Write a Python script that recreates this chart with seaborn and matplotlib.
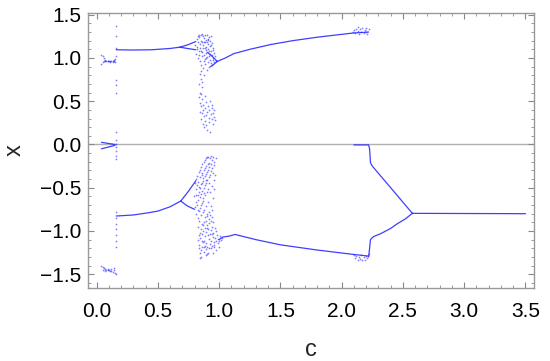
import matplotlib
matplotlib.use("Agg")
import matplotlib.pyplot as plt
import seaborn as sns
import pandas as pd
from matplotlib.ticker import MultipleLocator

# --- branches (dense parts of the diagram), knots ---
upper_main_c = [0.16, 0.30, 0.45, 0.60, 0.68]
upper_main_x = [1.095, 1.092, 1.095, 1.11, 1.125]
upper_fork_hi_c = [0.68, 0.74, 0.81]
upper_fork_hi_x = [1.125, 1.15, 1.19]
upper_fork_lo_c = [0.68, 0.74, 0.81]
upper_fork_lo_x = [1.125, 1.11, 1.095]
upper_v1_c = [0.91, 0.95, 0.985]
upper_v1_x = [1.06, 1.01, 0.96]
upper_v2_c = [0.93, 0.96, 0.985]
upper_v2_x = [0.90, 0.93, 0.96]
upper_late_c = [0.985, 1.05, 1.12, 1.25, 1.42, 1.60, 1.80, 2.09, 2.22]
upper_late_x = [0.96, 1.00, 1.05, 1.10, 1.155, 1.20, 1.24, 1.288, 1.30]

lower_main_c = [0.16, 0.30, 0.42, 0.50, 0.60, 0.687]
lower_main_x = [-0.827, -0.815, -0.79, -0.77, -0.72, -0.654]
lower_fork_hi_c = [0.687, 0.75, 0.81]
lower_fork_hi_x = [-0.654, -0.54, -0.42]
lower_fork_lo_c = [0.687, 0.74, 0.80]
lower_fork_lo_x = [-0.654, -0.71, -0.75]
lower_late_c = [1.00, 1.03, 1.08, 1.13, 1.30, 1.50, 1.80, 2.09, 2.22]
lower_late_x = [-1.10, -1.07, -1.06, -1.04, -1.10, -1.16, -1.22, -1.27, -1.29]

zero_c = [2.10, 2.22, 2.228, 2.235, 2.25, 2.40, 2.577]
zero_x = [-0.005, -0.005, -0.05, -0.21, -0.25, -0.50, -0.796]
rise_c = [2.22, 2.228, 2.235, 2.26, 2.32, 2.40, 2.45, 2.52, 2.577]
rise_x = [-1.30, -1.20, -1.10, -1.065, -1.03, -0.97, -0.92, -0.86, -0.796]
flat_c = [2.577, 3.0, 3.5]
flat_x = [-0.796, -0.798, -0.80]

near0_hi_c = [0.04, 0.15]
near0_hi_x = [0.025, 0.0]
near0_lo_c = [0.04, 0.15]
near0_lo_x = [-0.05, -0.01]

# --- scattered points ---
early_hi = [(0.04, 1.04), (0.05, 1.02), (0.06, 1.00), (0.07, 0.98), (0.08, 0.97), (0.09, 0.97),
            (0.10, 0.96), (0.11, 0.96), (0.12, 0.96), (0.13, 0.95), (0.14, 0.96), (0.04, 0.93),
            (0.05, 0.95), (0.06, 0.96), (0.07, 0.97), (0.09, 0.96), (0.11, 0.95), (0.13, 0.97),
            (0.14, 0.98), (0.15, 0.99), (0.15, 0.95)]
early_lo = [(0.04, -1.40), (0.05, -1.42), (0.06, -1.43), (0.07, -1.44), (0.08, -1.45), (0.09, -1.45),
            (0.10, -1.45), (0.11, -1.46), (0.12, -1.46), (0.13, -1.47), (0.14, -1.45), (0.15, -1.48),
            (0.05, -1.45), (0.07, -1.46), (0.09, -1.44), (0.12, -1.44), (0.14, -1.43)]
column_c = 0.155
column_x = [1.37, 1.25, 1.12, 1.02, 0.75, 0.69, 0.60, 0.14, 0.05, 0.01, -0.03, -0.08, -0.13, -0.17,
            -0.78, -0.85, -0.92, -0.98, -1.05, -1.12, -1.19, -1.50]

chaos_top = [(0.812, 1.05), (0.806, 1.15), (0.823, 1.22), (0.817, 1.10), (0.829, 1.00), (0.834, 1.27),
             (0.826, 1.18), (0.838, 1.04), (0.843, 1.12), (0.847, 0.96), (0.839, 1.24), (0.852, 1.20),
             (0.856, 1.08), (0.849, 0.92), (0.861, 1.28), (0.866, 1.15), (0.858, 1.02), (0.869, 0.88),
             (0.874, 1.23), (0.871, 1.11), (0.878, 0.97), (0.884, 1.26), (0.881, 1.18), (0.889, 1.06),
             (0.886, 0.93), (0.893, 1.21), (0.897, 1.13), (0.891, 1.00), (0.899, 0.86), (0.904, 1.27),
             (0.908, 1.16), (0.902, 1.07), (0.911, 0.95), (0.915, 1.24), (0.913, 1.10), (0.919, 1.02),
             (0.917, 0.90), (0.924, 1.20), (0.922, 1.14), (0.928, 0.98), (0.933, 1.25), (0.936, 1.08),
             (0.931, 0.94), (0.942, 1.17), (0.945, 1.04), (0.939, 0.92), (0.951, 1.12), (0.954, 1.00),
             (0.962, 1.06), (0.958, 0.95), (0.968, 1.02), (0.973, 0.97), (0.844, 1.16), (0.876, 1.19),
             (0.853, 1.26), (0.895, 1.09), (0.926, 1.05), (0.906, 1.22), (0.863, 1.07), (0.887, 1.12),
             (0.821, 1.13), (0.832, 1.08), (0.868, 1.25), (0.879, 1.03), (0.898, 1.18), (0.912, 1.21),
             (0.935, 1.15), (0.947, 1.09), (0.827, 1.25), (0.859, 1.19), (0.883, 0.99), (0.903, 1.01),
             (0.921, 1.08), (0.948, 0.98),
             (0.842, 0.82), (0.851, 0.76), (0.836, 0.70), (0.864, 0.66), (0.846, 0.60), (0.873, 0.80),
             (0.857, 0.72), (0.855, 0.85)]
chaos_mid = [(0.833, 0.55), (0.841, 0.48), (0.845, 0.38), (0.852, 0.58), (0.849, 0.44), (0.856, 0.30),
             (0.862, 0.52), (0.859, 0.36), (0.866, 0.24), (0.872, 0.46), (0.868, 0.40), (0.881, 0.56),
             (0.877, 0.33), (0.885, 0.27), (0.892, 0.49), (0.887, 0.42), (0.901, 0.37), (0.896, 0.22),
             (0.909, 0.45), (0.914, 0.31), (0.921, 0.40), (0.918, 0.26), (0.932, 0.35), (0.927, 0.50),
             (0.941, 0.29), (0.938, 0.42), (0.949, 0.36), (0.953, 0.24), (0.961, 0.32), (0.967, 0.28),
             (0.957, 0.40), (0.903, 0.17), (0.874, 0.20), (0.923, 0.15), (0.944, 0.46), (0.889, 0.34)]
chaos_band = [(0.802, -0.45), (0.798, -0.60), (0.805, -0.72), (0.812, -0.40), (0.808, -0.52), (0.815, -0.66),
              (0.811, -0.80), (0.823, -0.36), (0.819, -0.47), (0.826, -0.58), (0.821, -0.70), (0.828, -0.85),
              (0.834, -0.32), (0.831, -0.43), (0.837, -0.55), (0.829, -0.64), (0.836, -0.77), (0.843, -0.29),
              (0.847, -0.38), (0.841, -0.50), (0.848, -0.61), (0.844, -0.73), (0.839, -0.88), (0.853, -0.26),
              (0.857, -0.35), (0.851, -0.46), (0.855, -0.57), (0.859, -0.68), (0.852, -0.82), (0.864, -0.22),
              (0.861, -0.33), (0.867, -0.42), (0.863, -0.54), (0.869, -0.65), (0.862, -0.92), (0.874, -0.20),
              (0.878, -0.30), (0.872, -0.39), (0.876, -0.50), (0.871, -0.62), (0.879, -0.76), (0.884, -0.18),
              (0.888, -0.27), (0.882, -0.37), (0.886, -0.47), (0.881, -0.58), (0.894, -0.16), (0.891, -0.25),
              (0.897, -0.34), (0.893, -0.44), (0.899, -0.55), (0.903, -0.15), (0.907, -0.23), (0.901, -0.32),
              (0.905, -0.41), (0.909, -0.52), (0.913, -0.14), (0.917, -0.21), (0.911, -0.29), (0.915, -0.38),
              (0.924, -0.16), (0.921, -0.26), (0.927, -0.35), (0.933, -0.13), (0.937, -0.22), (0.931, -0.31),
              (0.944, -0.18), (0.941, -0.27), (0.953, -0.14), (0.957, -0.24), (0.962, -0.20), (0.971, -0.16),
              (0.814, -0.58), (0.833, -0.49), (0.858, -0.44), (0.873, -0.56), (0.896, -0.41), (0.918, -0.45),
              (0.946, -0.33), (0.825, -0.76), (0.849, -0.70), (0.866, -0.78), (0.925, -0.55), (0.938, -0.48),
              (0.951, -0.62), (0.962, -0.41), (0.934, -0.71), (0.908, -0.66), (0.918, -0.78), (0.956, -0.52),
              (0.969, -0.35), (0.891, -0.71), (0.902, -0.83), (0.945, -0.76)]
chaos_bottom = [(0.831, -0.95), (0.827, -1.10), (0.835, -1.20), (0.843, -1.02), (0.839, -1.16), (0.846, -1.26),
                (0.852, -0.98), (0.848, -1.08), (0.856, -1.22), (0.851, -1.30), (0.863, -1.04), (0.867, -1.13),
                (0.861, -1.19), (0.874, -0.90), (0.871, -1.00), (0.877, -1.11), (0.873, -1.24), (0.884, -0.84),
                (0.881, -0.96), (0.887, -1.06), (0.883, -1.17), (0.889, -1.28), (0.893, -0.88), (0.897, -1.01),
                (0.891, -1.14), (0.895, -1.21), (0.904, -0.80), (0.901, -0.93), (0.907, -1.05), (0.903, -1.18),
                (0.914, -0.86), (0.911, -0.98), (0.917, -1.09), (0.913, -1.25), (0.924, -0.82), (0.921, -0.91),
                (0.927, -1.03), (0.923, -1.15), (0.934, -0.88), (0.931, -0.99), (0.937, -1.12), (0.933, -1.20),
                (0.944, -0.84), (0.941, -0.95), (0.947, -1.07), (0.943, -1.17), (0.954, -0.90), (0.951, -1.02),
                (0.957, -1.13), (0.953, -1.26), (0.963, -0.97), (0.967, -1.08), (0.961, -1.16), (0.974, -1.00),
                (0.971, -1.11), (0.977, -1.22), (0.983, -1.05), (0.987, -1.14), (0.993, -1.09), (0.997, -1.18),
                (1.003, -1.12), (1.006, -1.06), (1.012, -1.10), (1.021, -1.08), (0.838, -1.05), (0.858, -1.12),
                (0.878, -1.19), (0.898, -0.96), (0.918, -1.20), (0.938, -1.04), (0.958, -1.19), (0.865, -0.93),
                (0.845, -1.31), (0.905, -1.27)]
late_hi = [(2.09, 1.30), (2.10, 1.32), (2.11, 1.29), (2.12, 1.34), (2.13, 1.31), (2.14, 1.28),
           (2.15, 1.33), (2.16, 1.30), (2.17, 1.35), (2.18, 1.29), (2.19, 1.32), (2.20, 1.30),
           (2.21, 1.28), (2.22, 1.33), (2.13, 1.36), (2.20, 1.35)]
late_lo = [(2.10, -1.28), (2.11, -1.31), (2.12, -1.29), (2.13, -1.33), (2.14, -1.30), (2.15, -1.32),
           (2.16, -1.28), (2.17, -1.34), (2.18, -1.30), (2.19, -1.33), (2.20, -1.29), (2.21, -1.31),
           (2.22, -1.27)]

branches = [
    (upper_main_c, upper_main_x), (upper_fork_hi_c, upper_fork_hi_x), (upper_fork_lo_c, upper_fork_lo_x),
    (upper_v1_c, upper_v1_x), (upper_v2_c, upper_v2_x), (upper_late_c, upper_late_x),
    (lower_main_c, lower_main_x), (lower_fork_hi_c, lower_fork_hi_x), (lower_fork_lo_c, lower_fork_lo_x),
    (lower_late_c, lower_late_x), (zero_c, zero_x), (rise_c, rise_x), (flat_c, flat_x),
    (near0_hi_c, near0_hi_x), (near0_lo_c, near0_lo_x),
]

scatter_pts = (early_hi + early_lo + [(column_c, v) for v in column_x] + chaos_top + chaos_mid
               + chaos_band + chaos_bottom + late_hi + late_lo)
pts = pd.DataFrame(scatter_pts, columns=["c", "x"])

sns.set_style("white")
plt.rcParams["font.family"] = ["Liberation Sans", "DejaVu Sans"]

fig = plt.figure(figsize=(5.5, 3.61), dpi=100)
ax = fig.add_axes([0.16, 0.202, 0.811, 0.762])

ax.axhline(0, color="#b0b0b0", lw=1.0, zorder=0)

for bc, bx in branches:
    seg = pd.DataFrame({"c": bc, "x": bx})
    sns.lineplot(data=seg, x="c", y="x", sort=False, estimator=None, color="#2a2aff",
                 lw=0.9, alpha=0.9, ax=ax)

sns.scatterplot(data=pts, x="c", y="x", s=1.6, color="blue", alpha=0.5, linewidth=0, ax=ax)

ax.set_xlim(-0.07, 3.57)
ax.set_ylim(-1.66, 1.52)
ax.xaxis.set_major_locator(MultipleLocator(0.5))
ax.xaxis.set_minor_locator(MultipleLocator(0.1))
ax.yaxis.set_major_locator(MultipleLocator(0.5))
ax.yaxis.set_minor_locator(MultipleLocator(0.1))
ax.xaxis.set_major_formatter(plt.FuncFormatter(lambda v, p: f"{v:.1f}".replace("-", "\u2212")))
ax.yaxis.set_major_formatter(plt.FuncFormatter(lambda v, p: f"{v:.1f}".replace("-", "\u2212")))
ax.tick_params(which="both", direction="in", bottom=True, left=True, top=True, right=True,
               color="#888888", labelsize=15, labelcolor="black")
ax.tick_params(axis="x", which="major", pad=10)
ax.tick_params(axis="y", which="major", pad=5)
ax.tick_params(which="major", length=4.5, width=0.8)
ax.tick_params(which="minor", length=2.5, width=0.6)
for sp in ax.spines.values():
    sp.set_color("#999999")
    sp.set_linewidth(1.0)

ax.set_xlabel("c", fontsize=17, labelpad=13)
ax.set_ylabel("x", fontsize=17, labelpad=10)

fig.savefig("out.png", dpi=100)
